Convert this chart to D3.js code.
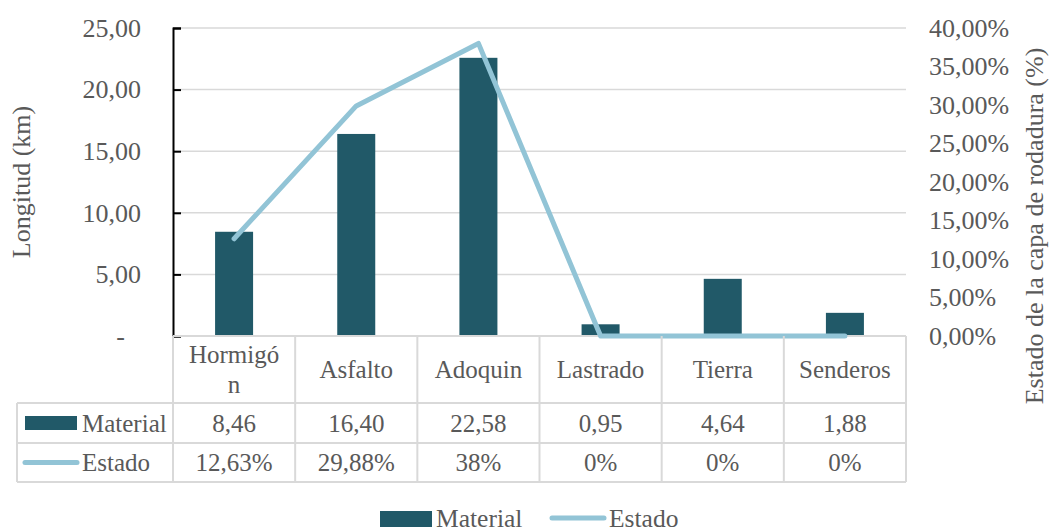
<!DOCTYPE html>
<html>
<head>
<meta charset="utf-8">
<script src="https://cdn.jsdelivr.net/npm/d3@7"></script>
<style>
  html, body { margin: 0; padding: 0; background: #fff; }
  svg { display: block; }
  svg text { font-family: "Liberation Serif", "DejaVu Serif", serif !important; fill: #595959; }
</style>
</head>
<body>
<svg id="chart" width="1051" height="528" font-family="Liberation Serif"></svg>
<script>
// Road network: length per surface type and condition of the wearing course
const categories = ["Hormigón", "Asfalto", "Adoquin", "Lastrado", "Tierra", "Senderos"];
const material = [8.46, 16.40, 22.58, 0.95, 4.64, 1.88];   // km
const estado = [0.1263, 0.2988, 0.38, 0, 0, 0];           // share
const leftTicks = [0, 5, 10, 15, 20, 25];
const rightTicks = [0, 0.05, 0.10, 0.15, 0.20, 0.25, 0.30, 0.35, 0.40];
const seriesNames = ["Material", "Estado"];

const barColor = "#215968";
const lineColor = "#92C4D6";
const gridColor = "#d9d9d9";
const serif = '"Liberation Serif", "DejaVu Serif", serif';

const es = d3.formatLocale({ decimal: ",", thousands: ".", grouping: [3], currency: ["", " €"] });
const fmtKm = es.format(".2f");
const fmtPctAxis = es.format(".2%");
const fmtPctCell = es.format(".2~%");

const svg = d3.select("#chart");

const plot = { left: 173, right: 906, top: 28, bottom: 336 };
const x = d3.scaleBand().domain(categories).range([plot.left, plot.right]).paddingInner(0).paddingOuter(0);
const y = d3.scaleLinear().domain([0, 25]).range([plot.bottom, plot.top]);
const y2 = d3.scaleLinear().domain([0, 0.40]).range([plot.bottom, plot.top]);
const barW = 38;

// gridlines
svg.append("g")
  .selectAll("line")
  .data(leftTicks.filter(d => d > 0))
  .join("line")
  .attr("x1", plot.left).attr("x2", plot.right)
  .attr("y1", d => y(d)).attr("y2", d => y(d))
  .attr("stroke", gridColor).attr("stroke-width", 1.5);

// bars
svg.append("g")
  .selectAll("rect")
  .data(categories)
  .join("rect")
  .attr("x", (d) => x(d) + x.bandwidth() / 2 - barW / 2)
  .attr("width", barW)
  .attr("y", (d, i) => y(material[i]))
  .attr("height", (d, i) => y(0) - y(material[i]))
  .attr("fill", barColor);

// left axis
const leftAxis = d3.axisLeft(y)
  .tickValues(leftTicks)
  .tickSize(-8)
  .tickPadding(32)
  .tickFormat(d => d === 0 ? "-" : fmtKm(d));
const gL = svg.append("g").attr("transform", `translate(${plot.left},0)`).call(leftAxis)
  .attr("font-family", serif);
gL.select(".domain").attr("stroke", "#000").attr("stroke-width", 2);
gL.selectAll(".tick line").attr("stroke", "#000").attr("stroke-width", 2);
gL.selectAll(".tick text")
  .attr("font-size", 26).attr("fill", "#595959")
  .attr("dy", "0.32em");
gL.selectAll(".tick").filter(d => d === 0).select("text").attr("dx", -16);

// right axis (labels only)
const rightAxis = d3.axisRight(y2)
  .tickValues(rightTicks)
  .tickSize(0)
  .tickPadding(23)
  .tickFormat(fmtPctAxis);
const gR = svg.append("g").attr("transform", `translate(${plot.right},0)`).call(rightAxis)
  .attr("font-family", serif);
gR.select(".domain").remove();
gR.selectAll(".tick text")
  .attr("font-size", 26).attr("fill", "#595959")
  .attr("dy", "0.32em");

// baseline
svg.append("line")
  .attr("x1", plot.left).attr("x2", plot.right)
  .attr("y1", plot.bottom).attr("y2", plot.bottom)
  .attr("stroke", gridColor).attr("stroke-width", 2);

// line series
const line = d3.line()
  .x((d, i) => x(categories[i]) + x.bandwidth() / 2)
  .y(d => y2(d));
svg.append("path")
  .datum(estado)
  .attr("d", line)
  .attr("fill", "none")
  .attr("stroke", lineColor)
  .attr("stroke-width", 5)
  .attr("stroke-linejoin", "round")
  .attr("stroke-linecap", "round");

// axis titles
svg.append("text")
  .attr("transform", `translate(30,${(plot.top + plot.bottom) / 2}) rotate(-90)`)
  .attr("text-anchor", "middle")
  .attr("font-size", 26)
  .text("Longitud (km)");
svg.append("text")
  .attr("transform", `translate(1043,226) rotate(-90)`)
  .attr("text-anchor", "middle")
  .attr("font-size", 26)
  .text("Estado de la capa de rodadura (%)");

// data table
const table = { left: 17, headerBottom: 403, row1Bottom: 443, row2Bottom: 482 };
const tg = svg.append("g");
const border = (x1, y1, x2, y2) => tg.append("line")
  .attr("x1", x1).attr("y1", y1).attr("x2", x2).attr("y2", y2)
  .attr("stroke", gridColor).attr("stroke-width", 2);

// vertical cell borders
const colEdges = categories.map(c => x(c)).concat([plot.right]);
colEdges.forEach(cx => border(cx, plot.bottom, cx, table.row2Bottom));
border(table.left, table.headerBottom, table.left, table.row2Bottom);
// horizontal cell borders
border(table.left, table.headerBottom, plot.right, table.headerBottom);
border(table.left, table.row1Bottom, plot.right, table.row1Bottom);
border(table.left, table.row2Bottom, plot.right, table.row2Bottom);

// wraps a label to the cell width, breaking long words by character
function wrapLabel(textSel, label, maxW) {
  const lines = [];
  let cur = "";
  const probe = textSel.append("tspan");
  for (const ch of label) {
    probe.text(cur + ch);
    if (probe.node().getComputedTextLength() > maxW && cur.length) {
      lines.push(cur);
      cur = ch;
    } else {
      cur += ch;
    }
  }
  lines.push(cur);
  probe.remove();
  return lines;
}

const headerMid = (plot.bottom + table.headerBottom) / 2;
categories.forEach(c => {
  const cx = x(c) + x.bandwidth() / 2;
  const t = tg.append("text").attr("text-anchor", "middle").attr("font-size", 25);
  const lines = wrapLabel(t, c, 95);
  const lh = 30;
  const y0 = headerMid - (lines.length - 1) * lh / 2;
  lines.forEach((ln, k) => {
    t.append("tspan").attr("x", cx).attr("y", y0 + k * lh).attr("dy", "0.35em").text(ln);
  });
});

const row1Mid = (table.headerBottom + table.row1Bottom) / 2;
const row2Mid = (table.row1Bottom + table.row2Bottom) / 2;
categories.forEach((c, i) => {
  const cx = x(c) + x.bandwidth() / 2;
  tg.append("text").attr("x", cx).attr("y", row1Mid).attr("dy", "0.35em")
    .attr("text-anchor", "middle").attr("font-size", 25).text(fmtKm(material[i]));
  tg.append("text").attr("x", cx).attr("y", row2Mid).attr("dy", "0.35em")
    .attr("text-anchor", "middle").attr("font-size", 25).text(fmtPctCell(estado[i]));
});

// legend keys inside the table
tg.append("rect").attr("x", 25).attr("y", row1Mid - 7).attr("width", 52).attr("height", 14).attr("fill", barColor);
tg.append("text").attr("x", 82).attr("y", row1Mid).attr("dy", "0.35em").attr("font-size", 25).text(seriesNames[0]);
tg.append("line").attr("x1", 25).attr("x2", 77).attr("y1", row2Mid).attr("y2", row2Mid)
  .attr("stroke", lineColor).attr("stroke-width", 5).attr("stroke-linecap", "round");
tg.append("text").attr("x", 82).attr("y", row2Mid).attr("dy", "0.35em").attr("font-size", 25).text(seriesNames[1]);

// bottom legend
const lg = svg.append("g");
const legY = 518;
lg.append("rect").attr("x", 380).attr("y", legY - 7).attr("width", 52).attr("height", 16).attr("fill", barColor);
lg.append("text").attr("x", 436).attr("y", legY).attr("dy", "0.35em").attr("font-size", 25.5).text(seriesNames[0]);
lg.append("line").attr("x1", 552).attr("x2", 604).attr("y1", legY).attr("y2", legY)
  .attr("stroke", lineColor).attr("stroke-width", 5).attr("stroke-linecap", "round");
lg.append("text").attr("x", 609).attr("y", legY).attr("dy", "0.35em").attr("font-size", 25.5).text(seriesNames[1]);
</script>
</body>
</html>
